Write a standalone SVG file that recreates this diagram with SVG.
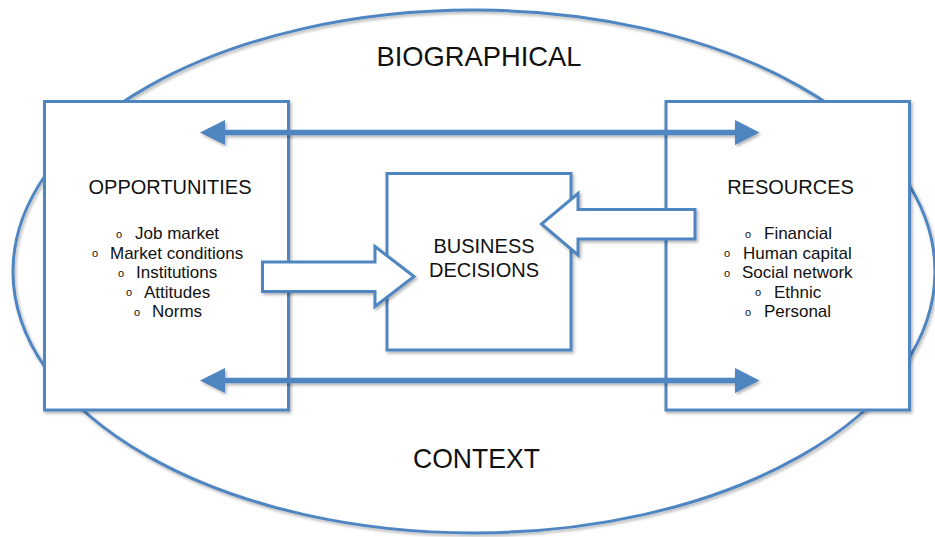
<svg xmlns="http://www.w3.org/2000/svg" width="935" height="537" viewBox="0 0 935 537">
  <style>
    .shape { fill: #ffffff; stroke: #5085c1; stroke-width: 3; }
    .ring { fill: none; stroke: #5085c1; stroke-width: 3; }
    .shaft { stroke: #5085c1; stroke-width: 5.5; fill: none; }
    .head { fill: #5085c1; }
    text { font-family: "Liberation Sans", Arial, sans-serif; fill: #111111; }
    .big { font-size: 28px; text-anchor: middle; }
    .title { font-size: 20px; text-anchor: middle; }
    .item { font-size: 17px; }
    .dot { font-size: 11px; text-anchor: middle; }
  </style>
  <defs>
    <filter id="shadow" x="-10%" y="-10%" width="120%" height="120%">
      <feDropShadow dx="1.5" dy="2" stdDeviation="1.5" flood-color="#000000" flood-opacity="0.3"/>
    </filter>
  </defs>

  <!-- outer context ellipse -->
  <g id="context">
    <ellipse class="ring" cx="474" cy="271.5" rx="461" ry="261.5" filter="url(#shadow)"/>
    <text class="big" x="479" y="66" textLength="205" lengthAdjust="spacingAndGlyphs">BIOGRAPHICAL</text>
    <text class="big" x="476.5" y="468" textLength="127" lengthAdjust="spacingAndGlyphs">CONTEXT</text>
  </g>

  <!-- opportunities box -->
  <g id="opportunities">
    <rect class="shape" x="44.5" y="101.5" width="244" height="308.5" filter="url(#shadow)"/>
    <text class="title" x="170" y="194">OPPORTUNITIES</text>
    <text class="dot" x="119" y="237.8">o</text>
    <text class="item" x="135" y="239">Job market</text>
    <text class="dot" x="95" y="257.3">o</text>
    <text class="item" x="110" y="258.5">Market conditions</text>
    <text class="dot" x="121" y="276.8">o</text>
    <text class="item" x="136" y="278">Institutions</text>
    <text class="dot" x="129" y="296.3">o</text>
    <text class="item" x="144" y="297.5">Attitudes</text>
    <text class="dot" x="137" y="315.8">o</text>
    <text class="item" x="152" y="317">Norms</text>
  </g>

  <!-- resources box -->
  <g id="resources">
    <rect class="shape" x="666" y="101.5" width="243.5" height="308.5" filter="url(#shadow)"/>
    <text class="title" x="790.5" y="194">RESOURCES</text>
    <text class="dot" x="748" y="237.8">o</text>
    <text class="item" x="764" y="239">Financial</text>
    <text class="dot" x="727" y="257.3">o</text>
    <text class="item" x="743" y="258.5">Human capital</text>
    <text class="dot" x="727" y="276.8">o</text>
    <text class="item" x="742" y="278">Social network</text>
    <text class="dot" x="758" y="296.3">o</text>
    <text class="item" x="774" y="297.5">Ethnic</text>
    <text class="dot" x="748" y="315.8">o</text>
    <text class="item" x="764" y="317">Personal</text>
  </g>

  <!-- business decisions box -->
  <g id="decisions">
    <rect class="shape" x="387" y="173.5" width="184" height="176.5" filter="url(#shadow)"/>
    <text class="title" x="484" y="253">BUSINESS</text>
    <text class="title" x="484" y="277">DECISIONS</text>
  </g>

  <!-- connectors -->
  <g id="connectors">
    <!-- two-way links between opportunities and resources -->
    <g filter="url(#shadow)">
      <line class="shaft" x1="222" y1="132.5" x2="738" y2="132.5"/>
      <polygon class="head" points="200,132.5 225,120 225,145"/>
      <polygon class="head" points="759.5,132.5 735,120 735,145"/>
      <line class="shaft" x1="222" y1="380.5" x2="738" y2="380.5"/>
      <polygon class="head" points="200,380.5 225,368 225,393"/>
      <polygon class="head" points="759.5,380.5 735,368 735,393"/>
    </g>
    <!-- block arrows feeding the decisions box -->
    <polygon class="shape" points="262.5,262 375,262 375,246.5 414,276.5 375,306.5 375,291.5 262.5,291.5" filter="url(#shadow)"/>
    <polygon class="shape" points="695,209.5 578,209.5 578,193.5 541.5,224 578,255 578,239 695,239" filter="url(#shadow)"/>
  </g>
</svg>
